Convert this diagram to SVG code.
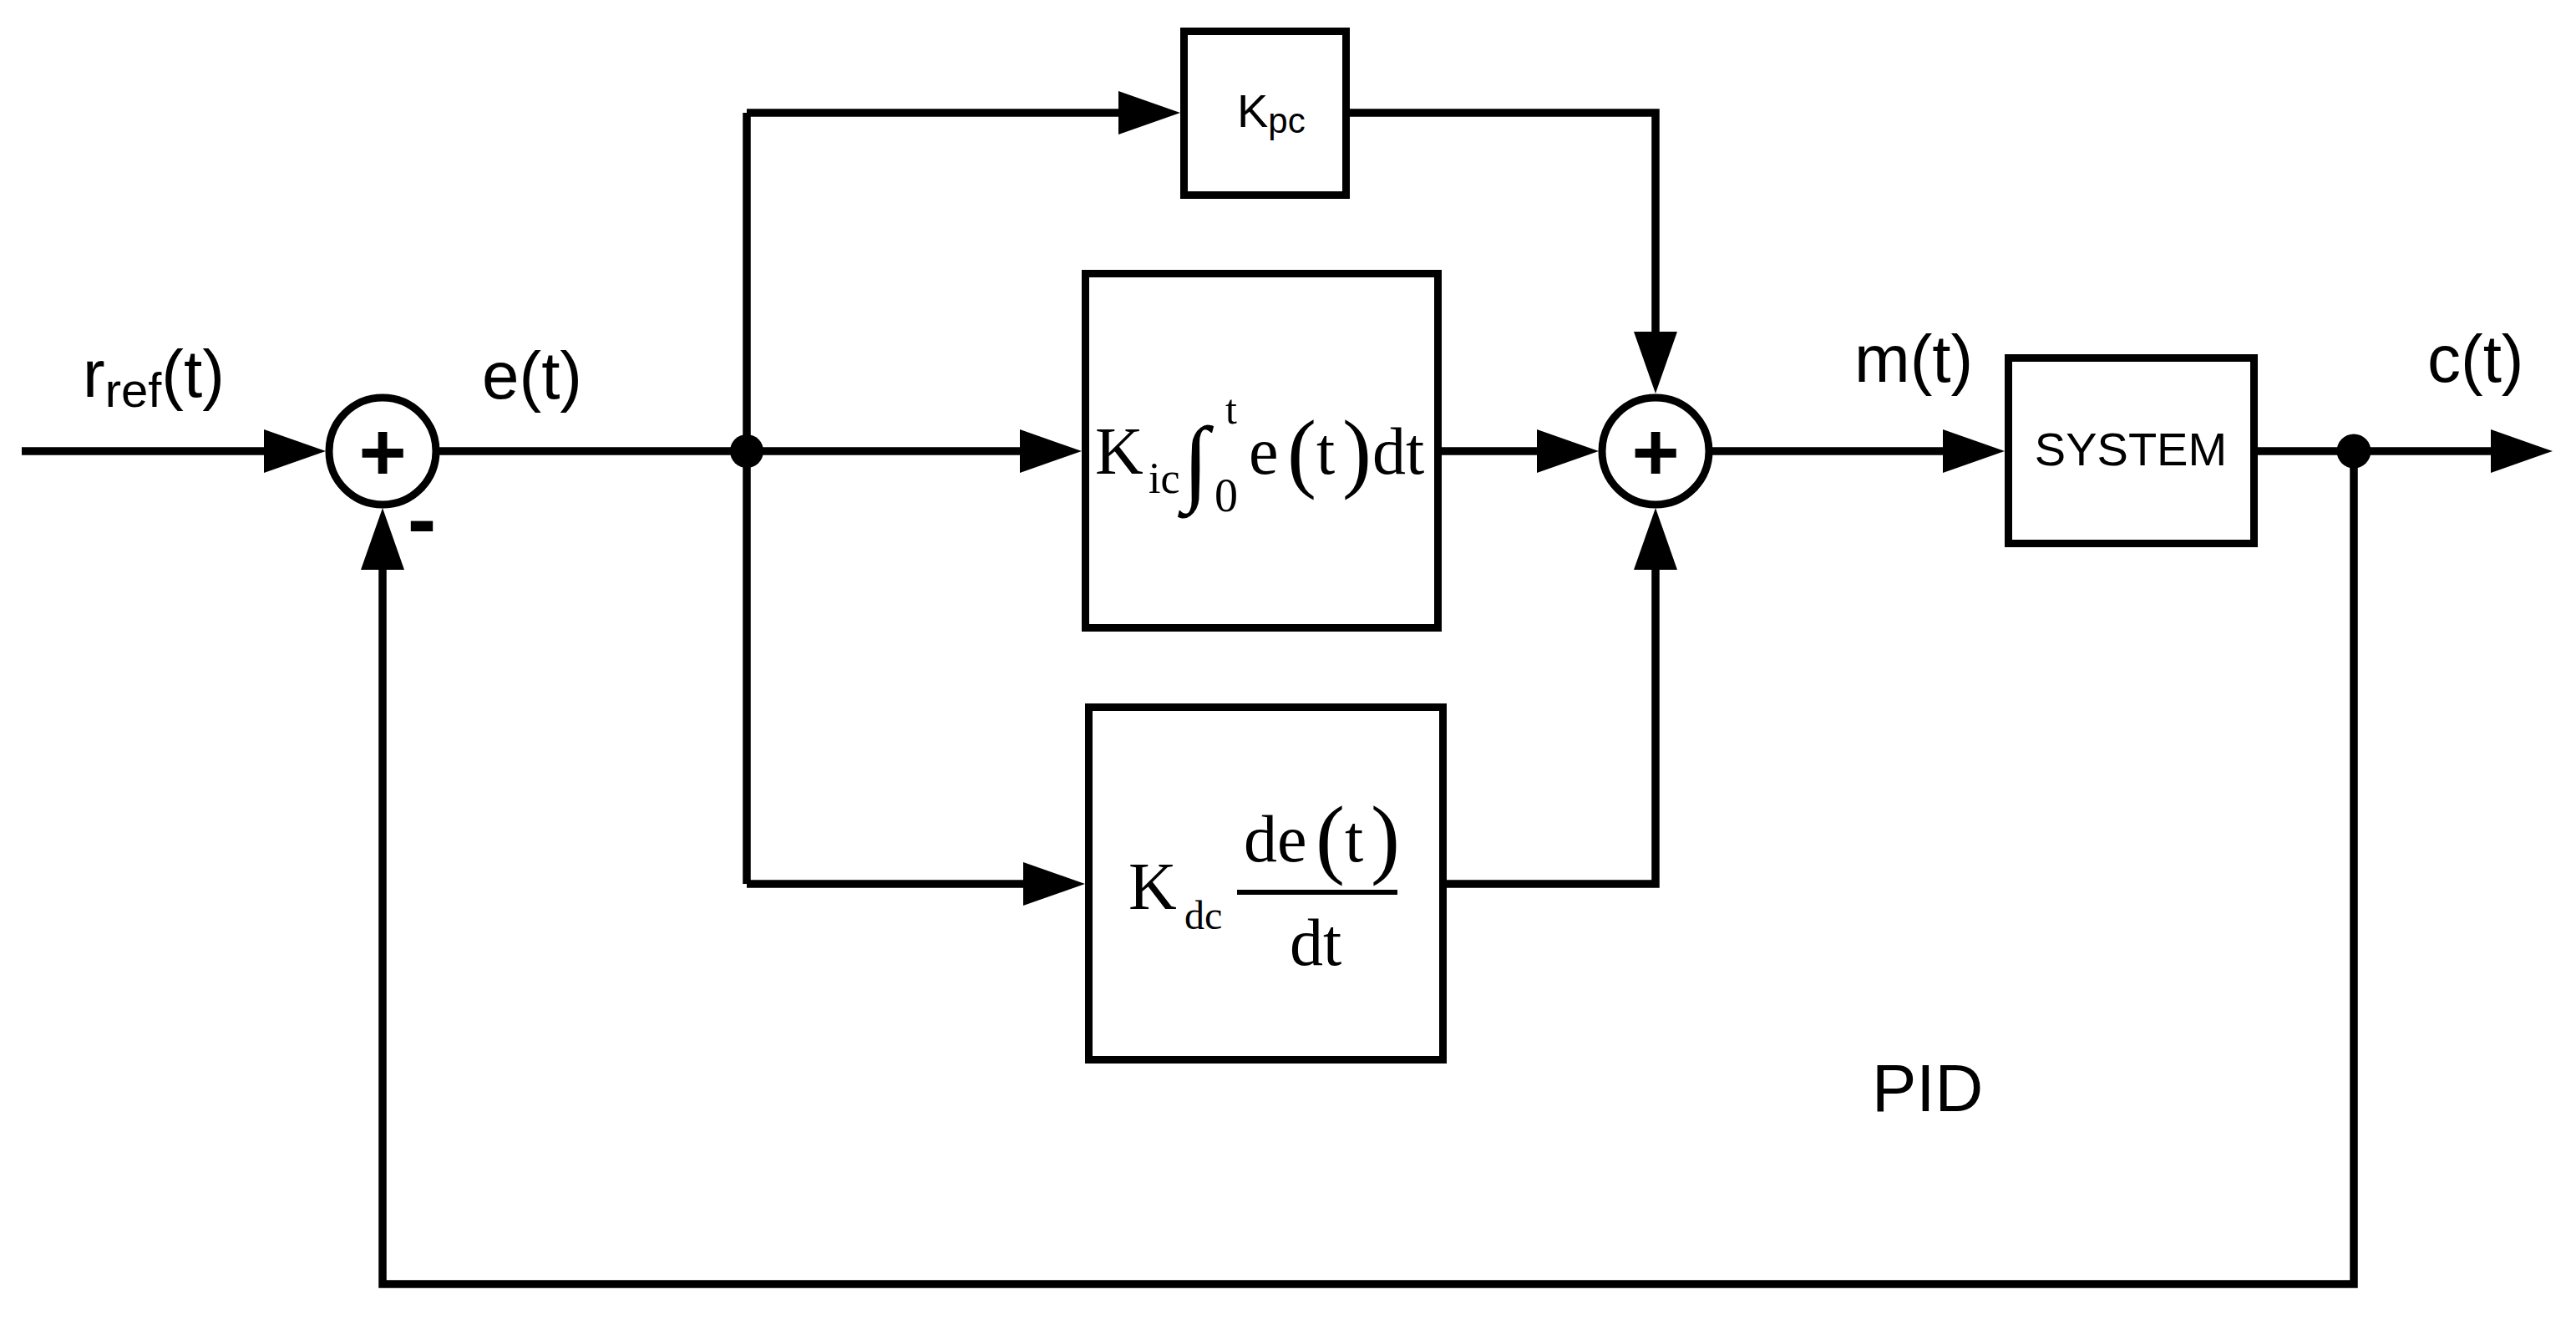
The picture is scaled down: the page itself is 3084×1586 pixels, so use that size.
<svg xmlns="http://www.w3.org/2000/svg" width="3084" height="1586" viewBox="0 0 3084 1586">
<style>
.ln{fill:none;stroke:#000;stroke-width:9.5;stroke-linejoin:miter}
.box{fill:#fff;stroke:#000;stroke-width:9}
.sum{fill:#fff;stroke:#000;stroke-width:9}
.sans{font-family:"Liberation Sans",Arial,sans-serif;fill:#000}
.serif{font-family:"Liberation Serif","Times New Roman",serif;fill:#000}
.lbl{font-size:80px}
.sign{font-family:"Liberation Sans",Arial,sans-serif;font-weight:bold;fill:#000;text-anchor:middle}
</style>
<defs>
<marker id="ah" markerUnits="userSpaceOnUse" markerWidth="76" markerHeight="54" refX="0" refY="26" orient="auto" overflow="visible">
<path d="M0,0 L74,26 L0,52 Z" fill="#000"/>
</marker>
</defs>
<rect width="3084" height="1586" fill="#fff"/>
<g id="connectors">
<path class="ln" d="M26,540 H316" marker-end="url(#ah)"/>
<path class="ln" d="M526,540 H1221" marker-end="url(#ah)"/>
<path class="ln" d="M894,135 V1058"/>
<path class="ln" d="M894,135 H1339" marker-end="url(#ah)"/>
<path class="ln" d="M894,1058 H1225" marker-end="url(#ah)"/>
<path class="ln" d="M1616,135 H1982 V397" marker-end="url(#ah)"/>
<path class="ln" d="M1726,540 H1840" marker-end="url(#ah)"/>
<path class="ln" d="M1732,1058 H1982 V682" marker-end="url(#ah)"/>
<path class="ln" d="M2050,540 H2326" marker-end="url(#ah)"/>
<path class="ln" d="M2703,540 H2982" marker-end="url(#ah)"/>
<path class="ln" d="M2818,540 V1537 H458 V682" marker-end="url(#ah)"/>
<circle cx="894" cy="540" r="20" fill="#000"/>
<circle cx="2818" cy="540" r="20.5" fill="#000"/>
</g>
<g id="sum1">
<circle class="sum" cx="458" cy="540" r="64"/>
<text class="sign" x="458" y="575" font-size="98">+</text>
<text class="sign" x="505" y="657" font-size="104">-</text>
</g>
<g id="sum2">
<circle class="sum" cx="1982" cy="540" r="64"/>
<text class="sign" x="1982" y="575" font-size="98">+</text>
</g>
<g id="kpc">
<rect class="box" x="1417.5" y="37.5" width="194" height="196"/>
<text class="sans" x="1481" y="152" font-size="56">K<tspan font-size="42" dy="7">pc</tspan></text>
</g>
<g id="ki">
<rect class="box" x="1299.5" y="327.5" width="422" height="424"/>
<text class="serif" font-size="80"><tspan x="1311" y="567">K</tspan><tspan x="1375" y="590" font-size="52">ic</tspan><tspan x="1416" y="590" font-size="114" font-weight="bold">∫</tspan><tspan x="1467" y="507" font-size="50">t</tspan><tspan x="1454" y="612" font-size="56">0</tspan><tspan x="1495" y="567">e</tspan><tspan x="1541" y="576" font-size="105">(</tspan><tspan x="1576" y="567">t</tspan><tspan x="1607" y="576" font-size="105">)</tspan><tspan x="1643" y="567">dt</tspan></text>
</g>
<g id="kd">
<rect class="box" x="1303.5" y="846.5" width="424" height="422"/>
<text class="serif" font-size="80"><tspan x="1351" y="1088">K</tspan><tspan x="1418" y="1112" font-size="48">dc</tspan><tspan x="1489" y="1031">de</tspan><tspan x="1575" y="1038" font-size="105">(</tspan><tspan x="1610" y="1031">t</tspan><tspan x="1641" y="1038" font-size="105">)</tspan><tspan x="1544" y="1155">dt</tspan></text>
<line x1="1481" y1="1068" x2="1673" y2="1068" stroke="#000" stroke-width="6"/>
</g>
<g id="system">
<rect class="box" x="2404.5" y="428.5" width="294" height="222"/>
<text class="sans" x="2551" y="557" font-size="56" text-anchor="middle">SYSTEM</text>
</g>
<g id="labels">
<text class="sans lbl" x="99" y="475">r<tspan font-size="58" dy="12">ref</tspan><tspan dy="-12">(t)</tspan></text>
<text class="sans lbl" x="577" y="477">e(t)</text>
<text class="sans lbl" x="2220" y="457">m(t)</text>
<text class="sans lbl" x="2906" y="457">c(t)</text>
<text class="sans lbl" x="2241" y="1330">PID</text>
</g>
</svg>
